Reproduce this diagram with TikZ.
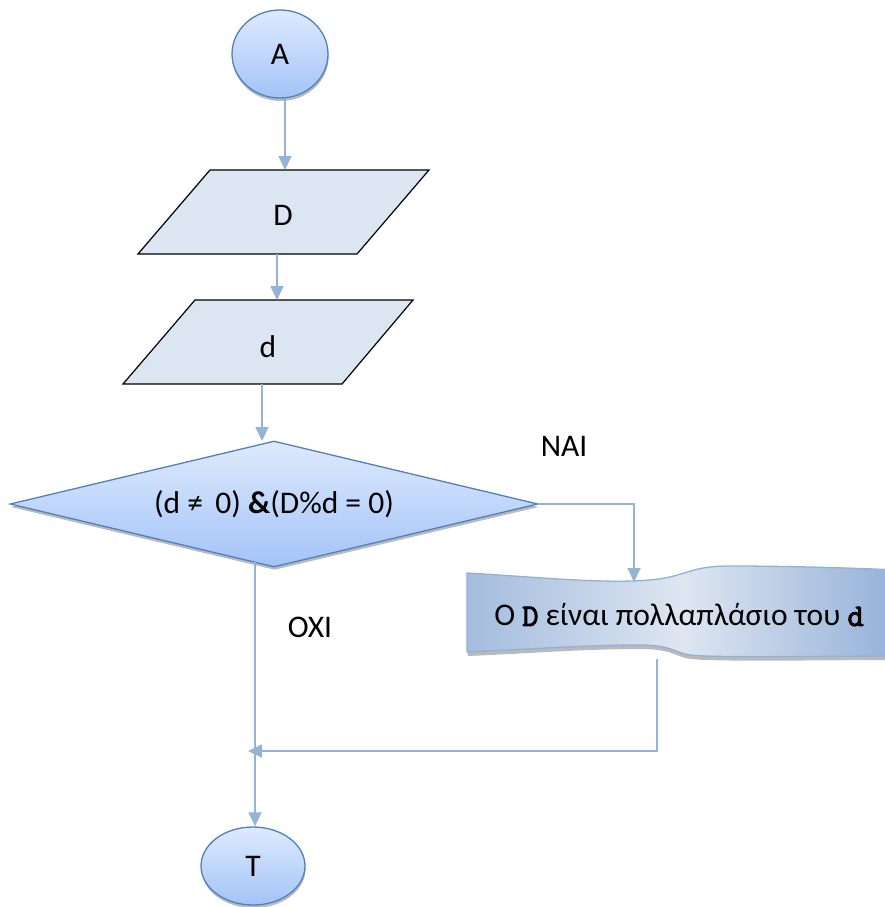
\documentclass[tikz,border=0pt]{standalone}
\usepackage{fontspec}
\setmainfont{Carlito}
\newfontfamily\codefont{Latin Modern Mono}[FakeBold=3]
\usetikzlibrary{shapes.geometric,arrows.meta,shadows}

\definecolor{termtop}{HTML}{DEEAFD}
\definecolor{termbot}{HTML}{A3C3F8}
\definecolor{termline}{HTML}{4F81BD}
\definecolor{iofill}{HTML}{DCE6F2}
\definecolor{flowline}{HTML}{94B3D7}
\definecolor{docedge}{HTML}{93B0D8}
\definecolor{docmid}{HTML}{DEE6F1}

\newcommand{\codevar}[1]{{\codefont #1}}

\tikzset{
  softshadow/.style={drop shadow={shadow xshift=0.6pt, shadow yshift=-3pt,
    fill=black!45, opacity=0.6}},
  term/.style={ellipse, draw=termline, line width=1.3pt, top color=termtop,
    bottom color=termbot, inner sep=0pt, softshadow},
  decision/.style={diamond, draw=termline, line width=1.3pt, top color=termtop,
    bottom color=termbot, inner sep=0pt, softshadow},
  iobox/.style={draw=black, line width=1.2pt, fill=iofill, line join=miter},
  flow/.style={draw=flowline, line width=1.8pt, -{Triangle[length=14pt,width=13pt]}},
  lbl/.style={inner sep=0pt}
}

\begin{document}
\begin{tikzpicture}[x=1pt, y=-1pt, font=\fontsize{31.5}{38}\selectfont]
\useasboundingbox (0,0) rectangle (884,907);

% start and end terminals
\node[term, minimum width=96pt, minimum height=88pt] (A) at (280,54) {A};
\node[term, minimum width=104pt, minimum height=78pt] (T) at (253,866) {T};

% input boxes
\draw[iobox] (210,170) -- (429,170) -- (357,254) -- (138,254) -- cycle;
\node[lbl] (D) at (283,215) {D};
\coordinate (Dtop) at (285,170);
\coordinate (Dbot) at (277,254);

\draw[iobox] (195,300) -- (413,300) -- (342,384) -- (123,384) -- cycle;
\node[lbl] (d) at (268,347) {d};
\coordinate (dtop) at (277,300);
\coordinate (dbot) at (262,384);

% decision
\node[decision, minimum width=528pt, minimum height=126pt, aspect=4.19] (C) at (274,504)
  {(d ≠\, 0) \textbf{\&}(D\%d = 0)};
\coordinate (Ctop) at (262,441);
\coordinate (Cbot) at (255,562);

% output message (wavy document shape)
\path[draw=docedge, line width=1.3pt, left color=docedge!85, right color=docedge,
      middle color=docmid,
      drop shadow={shadow xshift=0.6pt, shadow yshift=-4pt, fill=black!45, opacity=0.6}]
  (467,573) .. controls (540,577) and (620,586) .. (665,578)
  .. controls (690,573) and (695,566) .. (730,566)
  .. controls (790,566) and (850,568) .. (900,570)
  -- (900,656)
  .. controls (820,656) and (720,658) .. (690,655)
  .. controls (675,653) and (672,645) .. (640,645)
  .. controls (580,645) and (520,650) .. (467,652)
  -- cycle;
\node[lbl] (msg) at (679,615)
  {Ο \codevar{D} είναι πολλαπλάσιο του \codevar{d}};
\coordinate (msgtop) at (634,582);
\coordinate (msgbot) at (657,659);
\coordinate (merge) at (248,751);

% connectors
\draw[flow] (Dtop |- A.south) -- (Dtop);
\draw[flow] (Dbot) -- (dtop);
\draw[flow] (dbot) -- (Ctop);
\draw[flow] (C.east) -- (C.east -| msgtop) -- (msgtop);
\draw[flow] (msgbot) |- (merge);
\draw[flow] (Cbot) -- (Cbot |- T.north);

% branch labels
\node[lbl] (yes) at (564,446) {NAI};
\node[lbl] (no) at (310,627) {OXI};
\end{tikzpicture}
\end{document}
